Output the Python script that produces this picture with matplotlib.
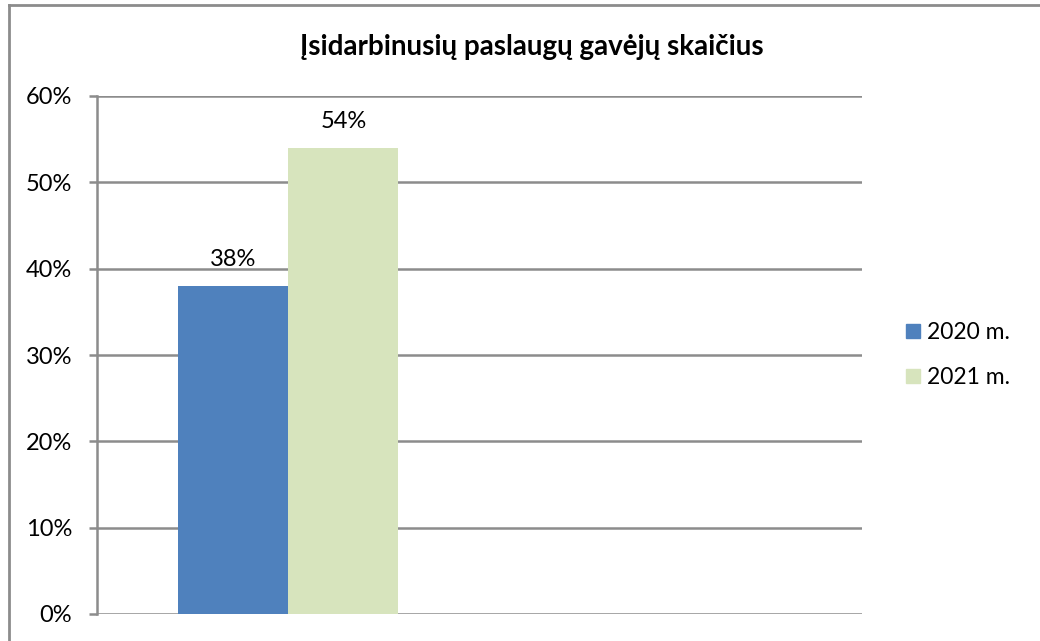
import matplotlib.pyplot as plt
from matplotlib.lines import Line2D

title = "Įsidarbinusių paslaugų gavėjų skaičius"
series = ["2020 m.", "2021 m."]
values = [38, 54]
colors = ["#4F81BD", "#D7E4BD"]
yticks = [0, 10, 20, 30, 40, 50, 60]

plt.rcParams['font.family'] = ['Lato', 'DejaVu Sans']

fig = plt.figure(figsize=(10.4, 6.41), dpi=100)
ax = fig.add_axes([97 / 1040, 1 - 614 / 641, (862 - 97) / 1040, (614 - 96) / 641])

w = 0.288
for i, (name, v, c) in enumerate(zip(series, values, colors)):
    x = (i - 0.5) * w
    ax.bar(x, v, width=w, color=c, label=name, zorder=3)
    ax.text(x, v + 1.8, f"{v}%", ha="center", va="bottom", fontsize=17)

ax.set_xlim(-0.5, 1.5)
ax.set_ylim(0, 60)
ax.set_yticks(yticks)
ax.set_yticklabels([f"{t}%" for t in yticks], fontsize=17)
ax.set_xticks([])
ax.grid(axis="y", color="#8C8C8C", linewidth=1.8, zorder=0)
ax.tick_params(axis="y", length=6, width=1.8, color="#8C8C8C", pad=12)
for s in ["top", "right", "bottom"]:
    ax.spines[s].set_visible(False)
ax.spines["left"].set_color("#8C8C8C")
ax.spines["left"].set_linewidth(1.8)

fig.text(0.511, 1 - 47 / 641, title, ha="center", va="center",
         fontsize=20, fontweight="bold")

handles = [Line2D([], [], marker="s", linestyle="", markersize=10,
                  markerfacecolor=c, markeredgecolor=c) for c in colors]
fig.legend(handles, series, loc="center left", frameon=False,
           bbox_to_anchor=(882 / 1040, 1 - 355 / 641), fontsize=16.5,
           handletextpad=0.15, labelspacing=1.05, handlelength=0.9)

# chart border (left and top edges visible)
fig.add_artist(Line2D([9 / 1040, 9 / 1040], [0, 1 - 5 / 641], transform=fig.transFigure,
                      color="#8C8C8C", linewidth=2))
fig.add_artist(Line2D([9 / 1040, 1], [1 - 5 / 641, 1 - 5 / 641], transform=fig.transFigure,
                      color="#8C8C8C", linewidth=2))

fig.savefig("out.png", dpi=100)
